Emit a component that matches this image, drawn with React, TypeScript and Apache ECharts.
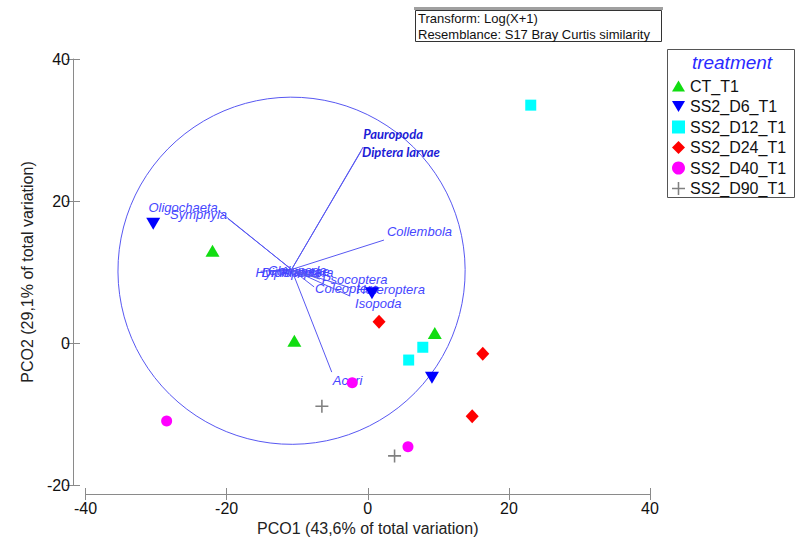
import React, { useEffect, useRef } from "react";
import * as echarts from "echarts";

// Sample scores on the first two principal coordinates, per treatment
const TREATMENTS = ["CT_T1", "SS2_D6_T1", "SS2_D12_T1", "SS2_D24_T1", "SS2_D40_T1", "SS2_D90_T1"];
const CT_T1 = [[-22.0, 13.0], [-10.4, 0.3], [9.5, 1.4]];
const SS2_D6_T1 = [[-30.4, 16.8], [0.6, 7.0], [9.1, -4.9]];
const SS2_D12_T1 = [[23.1, 33.5], [7.8, -0.6], [5.8, -2.4]];
const SS2_D24_T1 = [[1.6, 3.0], [16.3, -1.5], [14.8, -10.3]];
const SS2_D40_T1 = [[-28.5, -11.0], [-2.2, -5.6], [5.7, -14.6]];
const SS2_D90_T1 = [[-6.5, -8.9], [3.8, -15.9]];

// Axis ranges
const X_MIN = -40, X_MAX = 40, X_STEP = 20;
const Y_MIN = -20, Y_MAX = 40, Y_STEP = 20;

// Correlation vectors (taxa) and the unit circle they are drawn in
const VECTOR_ORIGIN = [-10.8, 10.35];
const CIRCLE_RADIUS = 24.6;
const VECTOR_NAMES = [
  "Hymenoptera", "Diplopoda", "Chilopoda", "Araneae",
  "Psocoptera", "Coleoptera", "Heteroptera", "Isopoda",
  "Collembola", "Acari", "Oligochaeta", "Symphyla",
  "Pauropoda", "Diptera larvae",
];
const VECTOR_X = [-15.2, -13.9, -13.0, -11.4, -6.8, -7.6, -2.2, -2.5, 2.3, -5.1, -21.1, -19.8, -0.65, -0.95];
const VECTOR_Y = [10.1, 10.0, 10.3, 10.1, 9.0, 7.9, 7.7, 6.6, 14.5, -4.1, 18.6, 17.5, 27.6, 27.0];

// Where each vector's label sits relative to the vector tip
type Placement = { align: string; dx: number; dy: number; strong?: boolean };
const LABEL_PLACEMENT: Record<string, Placement> = {
  Hymenoptera: { align: "left", dx: -5, dy: 1 },
  Diplopoda: { align: "left", dx: -8, dy: 0 },
  Chilopoda: { align: "left", dx: -8, dy: 1 },
  Araneae: { align: "left", dx: -7, dy: 0 },
  Psocoptera: { align: "left", dx: 2, dy: 0 },
  Coleoptera: { align: "left", dx: 1, dy: 2 },
  Heteroptera: { align: "left", dx: 4, dy: 1 },
  Isopoda: { align: "left", dx: 5, dy: 7 },
  Collembola: { align: "left", dx: 3, dy: -9 },
  Acari: { align: "left", dx: 1, dy: 8 },
  Oligochaeta: { align: "right", dx: -1, dy: -3 },
  Symphyla: { align: "right", dx: -1, dy: -4 },
  Pauropoda: { align: "left", dx: 0, dy: -13, strong: true },
  "Diptera larvae": { align: "left", dx: 1, dy: 1, strong: true },
};

const FONT = "'Liberation Sans', Arial, sans-serif";
const VECTOR_COLOR = "#5858f2";
const LABEL_COLOR = "#4646ff";

const PLUS_PATH = "path://M4.4,0H5.6V4.4H10V5.6H5.6V10H4.4V5.6H0V4.4H4.4Z";
const DOWN_TRIANGLE = "path://M0,0L10,0L5,8.6Z";
const UP_TRIANGLE = "path://M5,0L10,8.6L0,8.6Z";

export default function App() {
  const ref = useRef<HTMLDivElement>(null);

  useEffect(() => {
    if (!ref.current) return;
    const chart = echarts.init(ref.current, null, { renderer: "svg" });

    const gridRect = { left: 85.5, right: 147, top: 59, bottom: 58 };

    const xBase = {
      type: "value",
      min: X_MIN,
      max: X_MAX,
      interval: X_STEP,
      splitLine: { show: false },
    };
    const yBase = {
      type: "value",
      min: Y_MIN,
      max: Y_MAX,
      interval: Y_STEP,
      splitLine: { show: false },
    };

    const styles = [
      { data: CT_T1, symbol: UP_TRIANGLE, symbolSize: [14, 12], color: "#11dd11", legendIcon: UP_TRIANGLE },
      { data: SS2_D6_T1, symbol: DOWN_TRIANGLE, symbolSize: [14, 12], color: "#0000ff", legendIcon: DOWN_TRIANGLE },
      { data: SS2_D12_T1, symbol: "rect", symbolSize: 11, color: "#00ffff", legendIcon: "rect" },
      { data: SS2_D24_T1, symbol: "diamond", symbolSize: [13, 14], color: "#ff0000", legendIcon: "diamond" },
      { data: SS2_D40_T1, symbol: "circle", symbolSize: 11, color: "#ff00ff", legendIcon: "circle" },
      { data: SS2_D90_T1, symbol: PLUS_PATH, symbolSize: 13, color: "#808080", legendIcon: PLUS_PATH },
    ];

    const markerSeries = styles.map((s, i) => ({
      type: "scatter",
      name: TREATMENTS[i],
      xAxisIndex: 0,
      yAxisIndex: 0,
      data: s.data,
      symbol: s.symbol,
      symbolSize: s.symbolSize,
      itemStyle: { color: s.color, opacity: 1 },
      z: 5,
    }));

    chart.setOption({
      animation: false,
      backgroundColor: "#ffffff",
      grid: [
        { ...gridRect, containLabel: false },
        { ...gridRect, containLabel: false },
      ],
      xAxis: [
        {
          ...xBase,
          gridIndex: 0,
          position: "bottom",
          offset: 9,
          axisLine: { show: true, onZero: false, lineStyle: { color: "#8a8a8a", width: 1 } },
          axisTick: { show: true, length: 6, lineStyle: { color: "#8a8a8a" } },
          axisLabel: { fontSize: 16, color: "#111", fontFamily: FONT, margin: 6 },
          name: "PCO1 (43,6% of total variation)",
          nameLocation: "middle",
          nameGap: 14,
          nameTextStyle: { fontSize: 16, color: "#222", fontFamily: FONT },
        },
        {
          ...xBase,
          gridIndex: 1,
          position: "bottom",
          offset: 9,
          axisLine: { show: false, onZero: false },
          axisTick: { show: true, inside: true, length: 6, lineStyle: { color: "#8a8a8a" } },
          axisLabel: { show: false },
        },
      ],
      yAxis: [
        {
          ...yBase,
          gridIndex: 0,
          position: "left",
          offset: 12.5,
          axisLine: { show: true, onZero: false, lineStyle: { color: "#8a8a8a", width: 1 } },
          axisTick: { show: true, length: 7, lineStyle: { color: "#8a8a8a" } },
          axisLabel: { fontSize: 16, color: "#111", fontFamily: FONT, margin: 3 },
          name: "PCO2 (29,1% of total variation)",
          nameLocation: "middle",
          nameGap: 38,
          nameTextStyle: { fontSize: 16, color: "#222", fontFamily: FONT },
        },
        {
          ...yBase,
          gridIndex: 1,
          position: "left",
          offset: 12.5,
          axisLine: { show: false, onZero: false },
          axisTick: { show: true, inside: true, length: 7, lineStyle: { color: "#8a8a8a" } },
          axisLabel: { show: false },
        },
      ],
      legend: {
        orient: "vertical",
        left: 672,
        top: 78,
        itemWidth: 13,
        itemHeight: 13,
        itemGap: 4.5,
        padding: 0,
        data: TREATMENTS.map((name, i) => ({ name, icon: styles[i].legendIcon })),
        textStyle: { fontSize: 16, color: "#111", fontFamily: FONT },
      },
      graphic: [
        // resemblance / transform note
        {
          type: "rect",
          shape: { x: 414, y: 7, width: 249, height: 3 },
          style: { fill: "#a0a0a0" },
          silent: true,
        },
        {
          type: "rect",
          shape: { x: 415.5, y: 10.5, width: 246, height: 31 },
          style: { fill: "#ffffff", stroke: "#333", lineWidth: 1 },
          silent: true,
        },
        {
          type: "text",
          x: 418,
          y: 18,
          style: {
            text: "Transform: Log(X+1)",
            fontSize: 13,
            fontFamily: FONT,
            fill: "#111",
            verticalAlign: "middle",
          },
        },
        {
          type: "text",
          x: 418,
          y: 34,
          style: {
            text: "Resemblance: S17 Bray Curtis similarity",
            fontSize: 13,
            fontFamily: FONT,
            fill: "#111",
            verticalAlign: "middle",
          },
        },
        // legend frame and title
        {
          type: "rect",
          shape: { x: 667.5, y: 49.5, width: 127, height: 148 },
          style: { fill: "none", stroke: "#555", lineWidth: 1 },
          silent: true,
        },
        {
          type: "text",
          x: 732,
          y: 62,
          style: {
            text: "treatment",
            fontSize: 19,
            fontStyle: "italic",
            fontFamily: FONT,
            fill: "#2a2aff",
            align: "center",
            verticalAlign: "middle",
          },
        },
      ],
      series: [
        {
          type: "custom",
          name: "circle",
          xAxisIndex: 0,
          yAxisIndex: 0,
          clip: false,
          silent: true,
          z: 1,
          data: [[VECTOR_ORIGIN[0], VECTOR_ORIGIN[1], CIRCLE_RADIUS]],
          renderItem: (_params: any, api: any) => {
            const c = api.coord([api.value(0), api.value(1)]);
            const r = api.size([api.value(2), 0])[0];
            return {
              type: "circle",
              shape: { cx: c[0], cy: c[1], r },
              style: { fill: "none", stroke: VECTOR_COLOR, lineWidth: 1 },
            };
          },
        },
        {
          type: "custom",
          name: "vectors",
          xAxisIndex: 0,
          yAxisIndex: 0,
          clip: false,
          silent: true,
          z: 2,
          data: VECTOR_X.map((x, i) => [x, VECTOR_Y[i]]),
          renderItem: (params: any, api: any) => {
            const o = api.coord(VECTOR_ORIGIN);
            const e = api.coord([api.value(0), api.value(1)]);
            const name = VECTOR_NAMES[params.dataIndex];
            const p = LABEL_PLACEMENT[name];
            return {
              type: "group",
              children: [
                {
                  type: "line",
                  shape: { x1: o[0], y1: o[1], x2: e[0], y2: e[1] },
                  style: { stroke: VECTOR_COLOR, lineWidth: 1 },
                },
                {
                  type: "text",
                  x: e[0] + p.dx,
                  y: e[1] + p.dy,
                  style: {
                    text: name,
                    fontSize: 13,
                    fontStyle: "italic",
                    fontWeight: p.strong ? "bold" : "normal",
                    fontFamily: p.strong ? "Lato, 'Noto Sans', sans-serif" : FONT,
                    fill: p.strong ? "#1c1cd6" : LABEL_COLOR,
                    align: p.align,
                    verticalAlign: "middle",
                  },
                },
              ],
            };
          },
        },
        ...markerSeries,
      ],
    });

    return () => chart.dispose();
  }, []);

  return (
    <div
      ref={ref}
      style={{ position: "absolute", left: 0, top: 0, width: 797, height: 543 }}
    />
  );
}
